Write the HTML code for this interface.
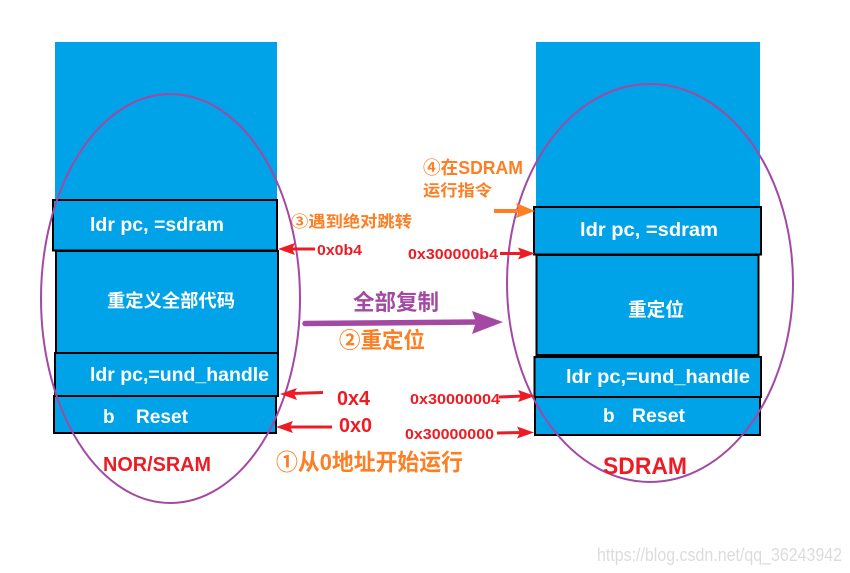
<!DOCTYPE html>
<html><head><meta charset="utf-8"><style>
html,body{margin:0;padding:0;background:#fff;width:850px;height:573px;overflow:hidden}
svg{display:block}
text{font-family:"Liberation Sans","Noto Sans CJK SC",sans-serif;font-weight:bold}
.w{fill:#fff;font-size:19px}
.o{fill:#fd7e23}
.r{fill:#ed1c24}
.p{fill:#a349a4}
</style></head><body>
<svg width="850" height="573" viewBox="0 0 850 573" xmlns="http://www.w3.org/2000/svg">
<rect width="850" height="573" fill="#fff"/>
<!-- left stack -->
<rect x="55" y="42" width="222" height="160" fill="#00a2e8"/>
<g fill="#00a2e8" stroke="#000" stroke-width="2">
<rect x="56" y="251" width="222" height="102"/>
<rect x="53" y="200" width="224" height="50.5"/>
<rect x="55" y="353" width="223" height="43"/>
<rect x="54" y="396" width="222" height="37"/>
</g>
<!-- right stack -->
<rect x="536" y="42" width="224" height="167" fill="#00a2e8"/>
<g fill="#00a2e8" stroke="#000" stroke-width="2">
<rect x="536.5" y="255" width="222" height="100"/>
<rect x="534" y="207" width="227" height="47.5"/>
<rect x="535" y="397" width="225" height="38"/>
<rect x="534.5" y="357" width="226.500" height="40"/>
</g>
<!-- ellipses -->
<ellipse cx="170.500" cy="298.500" rx="129.500" ry="204.500" fill="none" stroke="#a349a4" stroke-width="2"/>
<ellipse cx="650" cy="283" rx="143" ry="199" fill="none" stroke="#a349a4" stroke-width="2"/>
<!-- box labels -->
<text class="w" x="90" y="231" textLength="134" lengthAdjust="spacingAndGlyphs">ldr pc,  =sdram</text>
<text class="w" x="107" y="307" textLength="128" style="font-size:18px" lengthAdjust="spacingAndGlyphs">重定义全部代码</text>
<text class="w" x="90" y="381" textLength="179" lengthAdjust="spacingAndGlyphs">ldr pc,=und_handle</text>
<text class="w" x="103" y="423">b</text>
<text class="w" x="136" y="423" textLength="52" lengthAdjust="spacingAndGlyphs">Reset</text>
<text class="w" x="580" y="236" textLength="138" lengthAdjust="spacingAndGlyphs">ldr pc,  =sdram</text>
<text class="w" x="628" y="316" textLength="56" style="font-size:19px" lengthAdjust="spacingAndGlyphs">重定位</text>
<text class="w" x="566" y="383" textLength="184" lengthAdjust="spacingAndGlyphs">ldr pc,=und_handle</text>
<text class="w" x="603" y="422">b</text>
<text class="w" x="632" y="422" textLength="53" lengthAdjust="spacingAndGlyphs">Reset</text>
<!-- red arrows -->
<g stroke="#ed1c24" stroke-width="3" fill="none">
<line x1="291" y1="249" x2="315" y2="249"/>
<line x1="292" y1="393.500" x2="323" y2="392.500"/>
<line x1="288" y1="427" x2="332" y2="427"/>
<line x1="500" y1="253.500" x2="525" y2="253.500"/>
<line x1="499" y1="397" x2="525" y2="396"/>
<line x1="497" y1="433" x2="525" y2="432.500"/>
</g>
<g fill="#ed1c24">
<polygon points="278,249 295,243 292,249 295,255"/>
<polygon points="280,394 297,388 294,393.500 297,400"/>
<polygon points="276,427 293,421 290,427 293,433"/>
<polygon points="535,253.500 518,247.500 521,253.500 518,259.500"/>
<polygon points="535,396 518,390 521,396 518,402"/>
<polygon points="534,432.500 517,426.500 520,432.500 517,438.500"/>
</g>
<!-- orange arrow -->
<line x1="494" y1="211" x2="522" y2="211" stroke="#fd7e23" stroke-width="4"/>
<polygon points="535,211 516,203 519,211 516,218" fill="#fd7e23"/>
<!-- purple arrow -->
<line x1="305" y1="323.500" x2="478" y2="322" stroke="#a349a4" stroke-width="5.500" stroke-linecap="round"/>
<polygon points="503,322 472,311 476,322 472,334" fill="#a349a4"/>
<!-- red labels -->
<text class="r" x="317" y="255" font-size="15" textLength="45" lengthAdjust="spacingAndGlyphs">0x0b4</text>
<text class="r" x="337" y="405" font-size="20" textLength="33" lengthAdjust="spacingAndGlyphs">0x4</text>
<text class="r" x="339" y="432" font-size="20" textLength="33" lengthAdjust="spacingAndGlyphs">0x0</text>
<text class="r" x="408" y="259" font-size="15" textLength="90" lengthAdjust="spacingAndGlyphs">0x300000b4</text>
<text class="r" x="410" y="404" font-size="15" textLength="90" lengthAdjust="spacingAndGlyphs">0x30000004</text>
<text class="r" x="405" y="439" font-size="15" textLength="89" lengthAdjust="spacingAndGlyphs">0x30000000</text>
<text class="r" x="103" y="471" font-size="20" textLength="108" lengthAdjust="spacingAndGlyphs">NOR/SRAM</text>
<text class="r" x="603" y="474" font-size="24" textLength="84" lengthAdjust="spacingAndGlyphs">SDRAM</text>
<!-- orange labels -->
<text class="o" x="291" y="227" font-size="16" textLength="121" lengthAdjust="spacingAndGlyphs">③遇到绝对跳转</text>
<text class="o" x="339" y="348" font-size="22" textLength="86" lengthAdjust="spacingAndGlyphs">②重定位</text>
<text class="o" x="276" y="470" font-size="23" textLength="187" lengthAdjust="spacingAndGlyphs">①从0地址开始运行</text>
<text class="o" x="423" y="174" font-size="18" textLength="100" lengthAdjust="spacingAndGlyphs">④在SDRAM</text>
<text class="o" x="423" y="196" font-size="16" textLength="69" lengthAdjust="spacingAndGlyphs">运行指令</text>
<!-- purple label -->
<text class="p" x="353" y="310" font-size="22" textLength="86" lengthAdjust="spacingAndGlyphs">全部复制</text>
<!-- watermark -->
<text x="597" y="561" font-size="18" fill="#dcdcdc" style="font-weight:normal" textLength="245" lengthAdjust="spacingAndGlyphs">https://blog.csdn.net/qq_36243942</text>
</svg>
</body></html>
